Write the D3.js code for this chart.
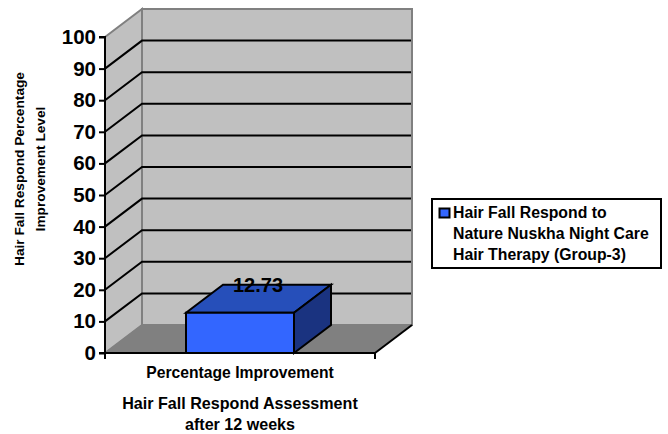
<!DOCTYPE html>
<html>
<head>
<meta charset="utf-8">
<script src="https://cdn.jsdelivr.net/npm/d3@7"></script>
<style>
html,body{margin:0;padding:0;background:#fff}
svg{display:block}
text{font-family:"Liberation Sans",Arial,sans-serif;font-weight:bold;fill:#000}
</style>
</head>
<body>
<svg id="c" width="668" height="434"></svg>
<script>
const categories = ["Percentage Improvement"];
const seriesName = ["Hair Fall Respond to", "Nature Nuskha Night Care", "Hair Therapy (Group-3)"];
const values = [12.73];
const valueLabels = ["12.73"];
const yTicks = [0,10,20,30,40,50,60,70,80,90,100];
const yTitle = ["Hair Fall Respond Percentage", "Improvement Level"];
const xTitle = ["Hair Fall Respond Assessment", "after 12 weeks"];

const svg = d3.select("#c");
const y = d3.scaleLinear().domain([0,100]).range([353,37]);
const x = d3.scaleBand().domain(categories).range([105,375]).paddingInner(0).paddingOuter(0.75);
const dx = 37, dy = -28;
const x0 = x.range()[0], x1 = x.range()[1];
const line = d3.line();
const poly = (pts, fill, stroke, sw) => svg.append("path")
  .attr("d", line(pts)+"Z").attr("fill",fill).attr("stroke",stroke).attr("stroke-width",sw).attr("stroke-linejoin","miter");

// walls
poly([[x0+dx,y(100)+dy],[x1+dx,y(100)+dy],[x1+dx,y(0)+dy],[x0+dx,y(0)+dy]], "#c0c0c0", "#808080", 2);
poly([[x0,y(100)],[x0+dx,y(100)+dy],[x0+dx,y(0)+dy],[x0,y(0)]], "#c0c0c0", "#808080", 2);
poly([[x0,y(0)],[x0+dx,y(0)+dy],[x1+dx,y(0)+dy],[x1,y(0)]], "#808080", "#808080", 1);

// gridlines
yTicks.filter(t => t>0 && t<100).forEach(t => {
  svg.append("path").attr("d", line([[x0,y(t)],[x0+dx,y(t)+dy],[x1+dx-1,y(t)+dy]]))
    .attr("fill","none").attr("stroke","#000").attr("stroke-width",2);
});
// floor front edges
svg.append("path").attr("d", line([[x1,y(0)],[x1+dx,y(0)+dy]])).attr("stroke","#000").attr("stroke-width",2).attr("fill","none");

// bars
categories.forEach((c,i) => {
  const m = x.bandwidth(), l = x(c), r = l+m, t = y(values[i]), b = y(0);
  poly([[l,t],[l+dx,t+dy],[r+dx,t+dy],[r,t]], "#264fba", "#000", 2);
  poly([[r,t],[r+dx,t+dy],[r+dx,b+dy],[r,b]], "#1a3380", "#000", 2);
  poly([[l,t],[r,t],[r,b],[l,b]], "#3366ff", "#000", 2);
  svg.append("text").attr("x",(l+r)/2+18).attr("y",t+dy+7).attr("text-anchor","middle")
    .attr("font-size",20).text(valueLabels[i]);
});

// y axis
const yAxis = d3.axisLeft(y).tickValues(yTicks).tickSize(6).tickPadding(3);
const gy = svg.append("g").attr("transform",`translate(${x0},0)`).call(yAxis);
gy.selectAll("path,line").attr("stroke","#000").attr("stroke-width",2);
gy.select(".domain").attr("d",`M-6,${y(100)}H0V${y(0)}H-6`);
gy.selectAll("text").attr("font-size",20.5).attr("fill","#000").style("font-family",'"Liberation Sans",Arial,sans-serif').style("font-weight","bold");

// x axis
svg.append("path").attr("d", `M${x0},${y(0)}H${x1}V${y(0)+6}M${x0},${y(0)}V${y(0)+6}`)
  .attr("fill","none").attr("stroke","#000").attr("stroke-width",2);
categories.forEach(c => svg.append("text").attr("x",x(c)+x.bandwidth()/2).attr("y",378)
  .attr("text-anchor","middle").attr("font-size",15.7).text(c));

// axis titles
xTitle.forEach((s,i) => svg.append("text").attr("x",240).attr("y",409+i*21)
  .attr("text-anchor","middle").attr("font-size",16.1).text(s));
yTitle.forEach((s,i) => svg.append("text")
  .attr("transform",`translate(${23.5+i*21},169) rotate(-90)`)
  .attr("text-anchor","middle").attr("font-size",13.7).text(s));

// legend
svg.append("rect").attr("x",432).attr("y",199).attr("width",229).attr("height",69)
  .attr("fill","#fff").attr("stroke","#000").attr("stroke-width",2);
svg.append("rect").attr("x",439.5).attr("y",208.5).attr("width",10).attr("height",9)
  .attr("fill","#3366ff").attr("stroke","#000").attr("stroke-width",2);
seriesName.forEach((s,i) => svg.append("text").attr("x",453).attr("y",218+i*21)
  .attr("font-size",15.8).text(s));
</script>
</body>
</html>
